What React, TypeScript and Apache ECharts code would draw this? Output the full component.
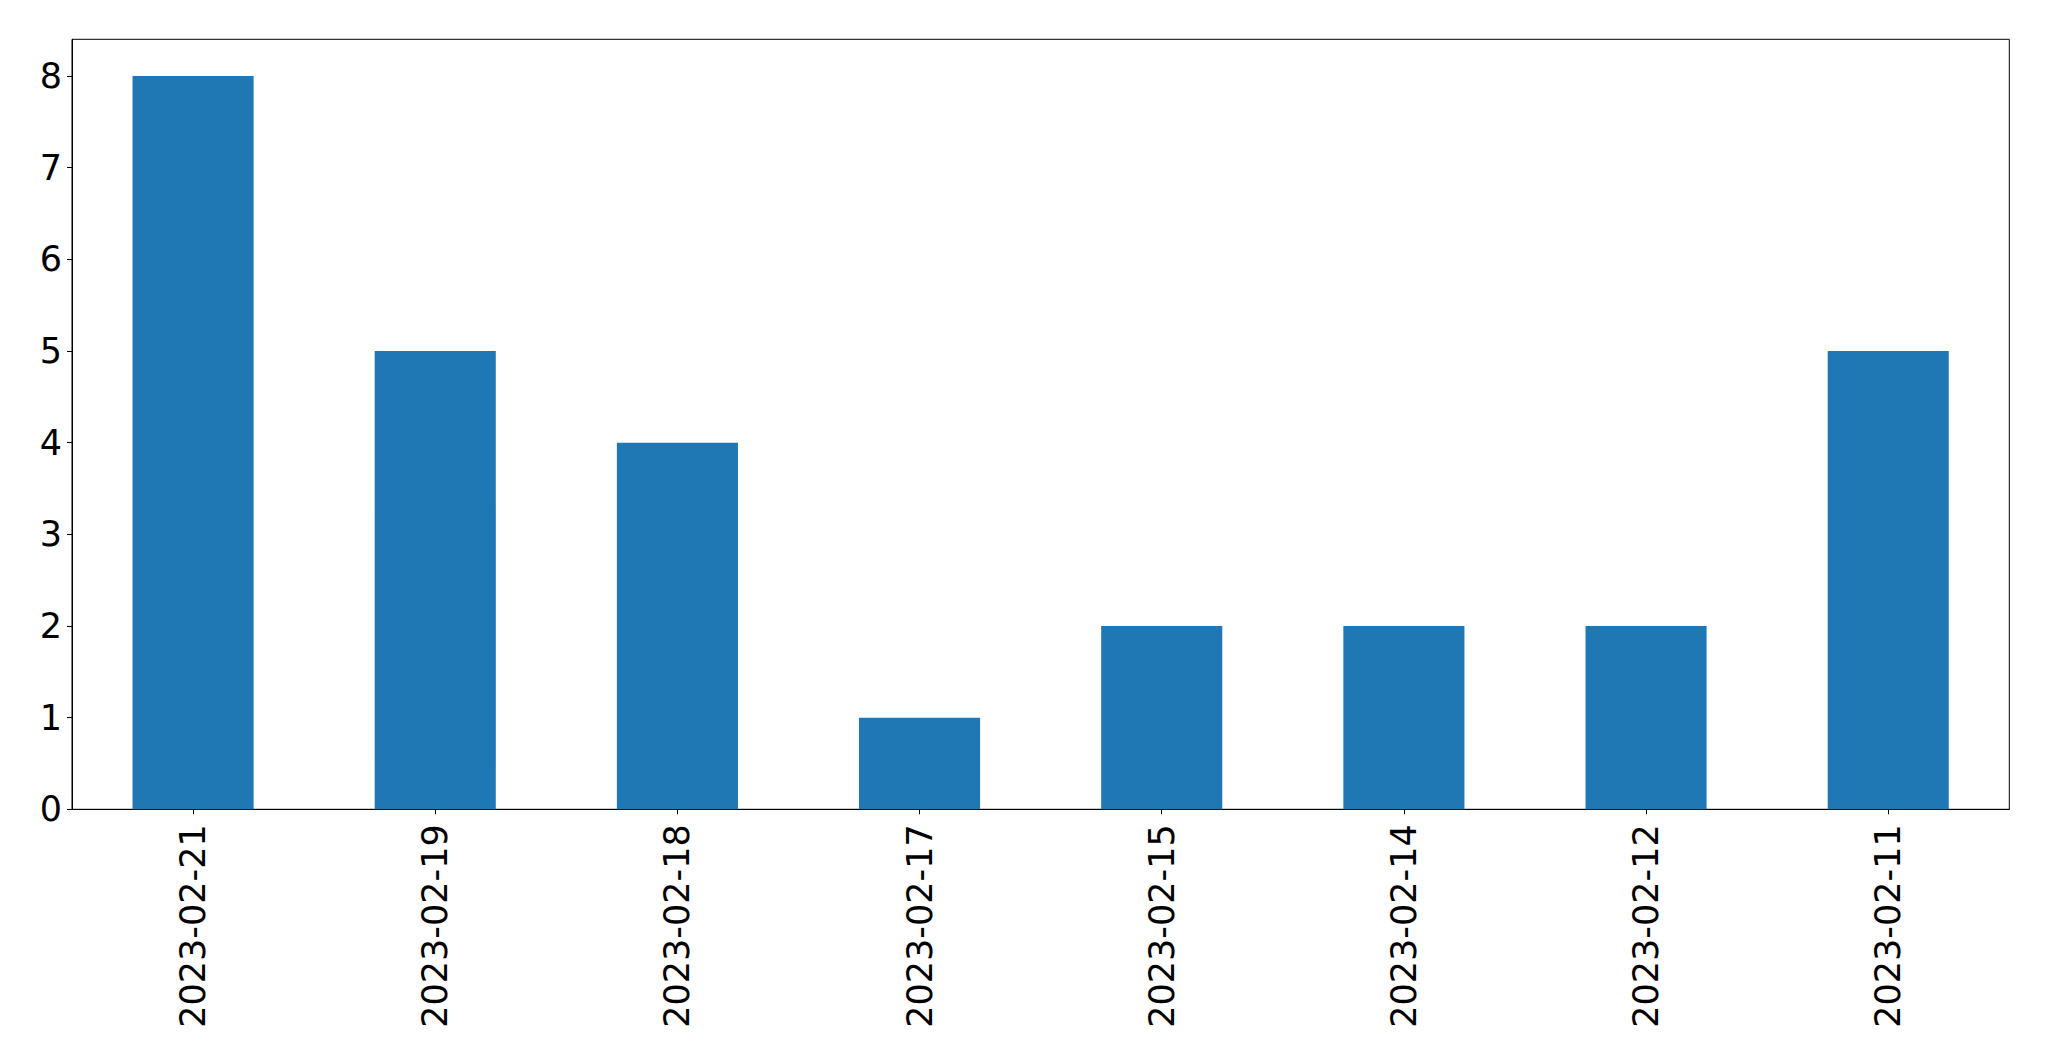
import React, { useEffect, useRef } from "react";
import * as echarts from "echarts";

const categories = [
  "2023-02-21",
  "2023-02-19",
  "2023-02-18",
  "2023-02-17",
  "2023-02-15",
  "2023-02-14",
  "2023-02-12",
  "2023-02-11",
];
const counts = [8, 5, 4, 1, 2, 2, 2, 5];
const yTicks = [0, 1, 2, 3, 4, 5, 6, 7, 8];

export default function App() {
  const ref = useRef<HTMLDivElement>(null);
  useEffect(() => {
    if (!ref.current) return;
    const chart = echarts.init(ref.current, null, { renderer: "svg" });
    const font = "DejaVu Sans";
    chart.setOption({
      animation: false,
      backgroundColor: "#ffffff",
      grid: {
        left: 72,
        top: 39.3,
        right: 39.7,
        bottom: 251.7,
        show: true,
        borderColor: "#000000",
        borderWidth: 1,
        backgroundColor: "transparent",
      },
      xAxis: {
        type: "category",
        data: categories,
        boundaryGap: true,
        axisLine: { show: true, lineStyle: { color: "#000000", width: 1 } },
        axisTick: {
          show: true,
          alignWithLabel: true,
          length: 5,
          lineStyle: { color: "#000000", width: 1 },
        },
        axisLabel: {
          rotate: 90,
          margin: 15,
          fontSize: 35,
          fontFamily: font,
          color: "#000000",
          interval: 0,
        },
        splitLine: { show: false },
      },
      yAxis: {
        type: "value",
        min: 0,
        max: 8.4,
        interval: 1,
        axisLine: { show: true, lineStyle: { color: "#000000", width: 1 } },
        axisTick: {
          show: true,
          length: 5,
          customValues: yTicks,
          lineStyle: { color: "#000000", width: 1 },
        },
        axisLabel: {
          margin: 10,
          fontSize: 35,
          fontFamily: font,
          color: "#000000",
          customValues: yTicks,
        },
        splitLine: { show: false },
      },
      series: [
        {
          type: "bar",
          data: counts,
          barWidth: "50%",
          itemStyle: { color: "#1f77b4" },
        },
      ],
    });
    return () => chart.dispose();
  }, []);
  return (
    <div
      ref={ref}
      style={{ position: "fixed", left: 0, top: 0, width: 2049, height: 1061 }}
    />
  );
}
